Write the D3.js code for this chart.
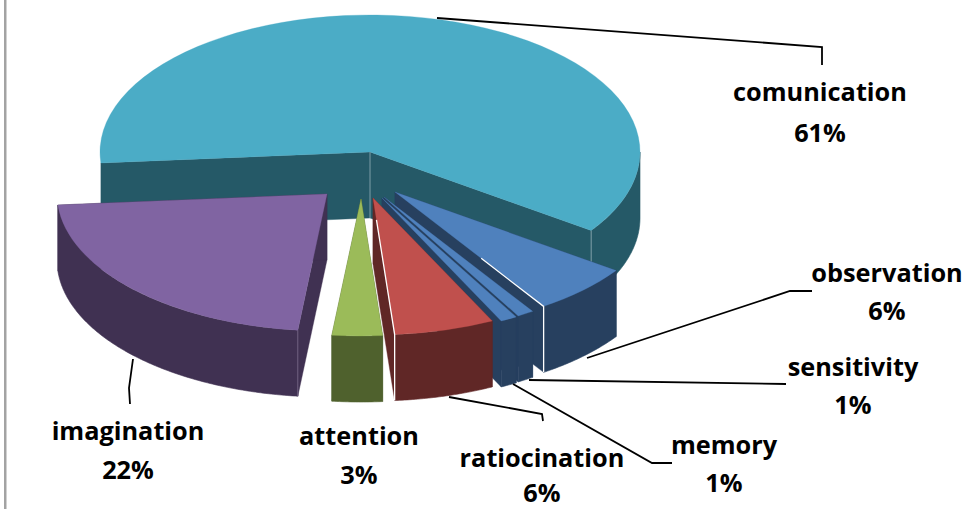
<!DOCTYPE html>
<html><head><meta charset="utf-8">
<script src="https://cdn.jsdelivr.net/npm/d3@7/dist/d3.min.js"></script>
<style>html,body{margin:0;padding:0;background:#fff}svg{display:block}
text{font-family:"Open Sans",Lato,sans-serif;font-weight:700;fill:#000;text-anchor:middle}</style>
</head><body><svg id="c" width="967" height="509"></svg>
<script>
const categories = ["comunication","observation","sensitivity","memory","ratiocination","attention","imagination"];
const percents = [61,6,1,1,6,3,22];
const topColors = ["#4bacc6","#4f81bd","#4f81bd","#4f81bd","#c0504d","#9bbb59","#8064a2"];
const wallColors = ["#255967","#27405f","#27405f","#27405f","#602726","#4f612d","#403152"];

// layout
const W=967,H=509, cx=370, cy=152, rx=270, ry=137, depth=66, fontSize=25.3;
const rad=d3.scaleLinear().domain([0,360]).range([0,2*Math.PI]);
const explodeX=[0,25,14,12,3,-9,-43], explodeY=[0,40,45,46,46,47,42];
const drawOrder=[0,6,1,2,3,4,5];
const seamFrom={1:0.58,4:0.16};
const labelX=[820,887,853,724,542,359,128], labelY=[101,282,376,454,467,445,440], labelGap=[41,38,38,38,35,39,39];
const leaders=[
 [[437,18],[822,47],[822,65]],
 [[587,358],[790,291],[812,291]],
 [[529,380],[786,384]],
 [[513,384],[652,463],[672,463]],
 [[449,397],[542,414],[543,421]],
 [[133,359],[129,388],[130,404]]
];

const svg=d3.select("#c");
svg.append("rect").attr("x",4).attr("y",0).attr("width",2.5).attr("height",H).attr("fill","#a3a3a3");

const pie=d3.pie().sort(null).value(d=>d).startAngle(rad(-94.6)).endAngle(rad(265.4));
const arcs=pie(percents);
const arcGen=d3.arc().innerRadius(0).outerRadius(rx);
const px=a=>rx*Math.sin(a), py=a=>-ry*Math.cos(a);
const polygon=d3.line().x(d=>d[0]).y(d=>d[1]);
const wallArea=d3.area().x(a=>px(a)).y0(a=>py(a)).y1(a=>py(a)+depth);

drawOrder.forEach(i=>{
  const a=arcs[i];
  const g=svg.append("g").attr("transform",`translate(${cx+explodeX[i]},${cy+explodeY[i]})`);
  [a.startAngle,a.endAngle].forEach(t=>{
    g.append("path").attr("fill",wallColors[i]).attr("stroke",wallColors[i]).attr("stroke-width",0.4)
     .attr("d",polygon([[0,0],[px(t),py(t)],[px(t),py(t)+depth],[0,depth]])+"Z");
  });
  // visible outer wall: the front half of the ellipse only
  const lo=Math.max(a.startAngle,rad(90)), hi=Math.min(a.endAngle,rad(270));
  if(hi>lo){
    g.append("path").attr("fill",wallColors[i]).attr("stroke",wallColors[i]).attr("stroke-width",0.6)
     .attr("d",wallArea(d3.range(lo,hi,0.01).concat([hi])));
  }
  g.append("path").attr("fill",topColors[i]).attr("stroke",topColors[i]).attr("stroke-width",0.4)
   .attr("transform",`scale(1,${ry/rx})`)
   .attr("d",arcGen({startAngle:a.startAngle,endAngle:a.endAngle}));
  // pale corner lines on the walls
  if(i===0){
    g.append("path").attr("fill","none").attr("stroke","#7f9fa8").attr("stroke-width",1)
     .attr("d",`M0,0V${depth}M${px(a.endAngle)},${py(a.endAngle)}v${depth-33}`);
  }
  if(i===6){
    g.append("path").attr("fill","none").attr("stroke","#7a6c8c").attr("stroke-width",0.8)
     .attr("d",`M${px(a.startAngle)},${py(a.startAngle)}v${depth}`);
  }
  if(seamFrom[i]!==undefined){
    const t=a.endAngle,f=seamFrom[i];
    g.append("path").attr("fill","none").attr("stroke","#fff").attr("stroke-width",1.3)
     .attr("d",polygon([[px(t)*f,py(t)*f],[px(t),py(t)],[px(t),py(t)+depth]]));
  }
});

const leader=d3.line();
svg.selectAll("path.leader").data(leaders).join("path").attr("class","leader")
  .attr("fill","none").attr("stroke","#000").attr("stroke-width",1.8).attr("d",d=>leader(d));

categories.forEach((c,i)=>{
  svg.append("text").attr("x",labelX[i]).attr("y",labelY[i]).attr("font-size",fontSize).text(c);
  svg.append("text").attr("x",labelX[i]).attr("y",labelY[i]+labelGap[i]).attr("font-size",fontSize).text(percents[i]+"%");
});
</script></body></html>
